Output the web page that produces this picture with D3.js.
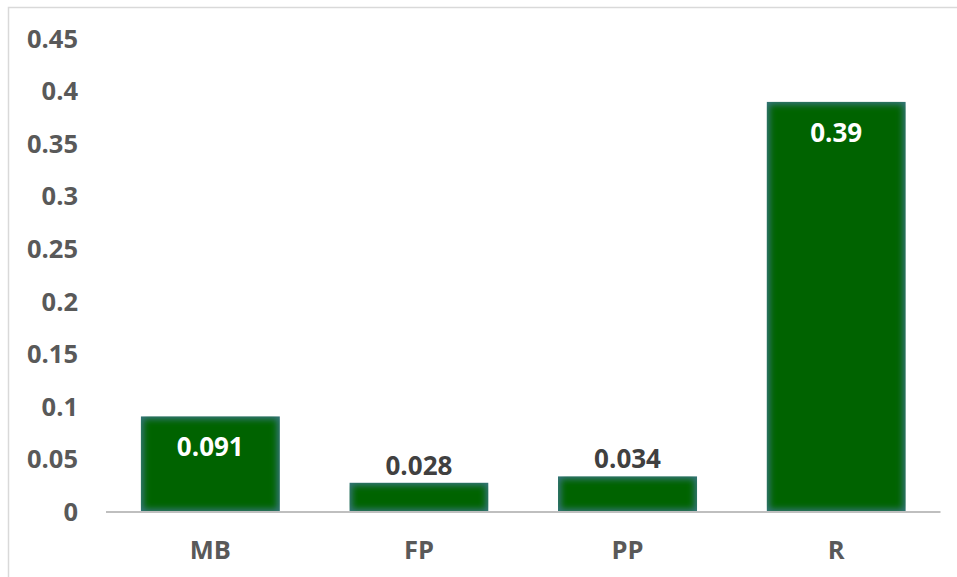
<!DOCTYPE html>
<html>
<head>
<meta charset="utf-8">
<script src="https://cdn.jsdelivr.net/npm/d3@7"></script>
<style>
  html, body { margin: 0; padding: 0; background: #fff; }
  svg { display: block; }
  text { font-family: "Open Sans", "Liberation Sans", sans-serif; font-weight: bold; }
</style>
</head>
<body>
<script>
// Data
const categories = ["MB", "FP", "PP", "R"];
const values = [0.091, 0.028, 0.034, 0.39];
const labelInside = [true, false, false, true];
const yTicks = [0, 0.05, 0.1, 0.15, 0.2, 0.25, 0.3, 0.35, 0.4, 0.45];
const yTickLabels = ["0", "0.05", "0.1", "0.15", "0.2", "0.25", "0.3", "0.35", "0.4", "0.45"];

const W = 957, H = 577;
const svg = d3.select("body").append("svg").attr("width", W).attr("height", H);

// chart frame (right/bottom edges run off the canvas)
svg.append("rect")
  .attr("x", 8.5).attr("y", 7.5)
  .attr("width", W + 10).attr("height", H + 10)
  .attr("fill", "none").attr("stroke", "#d9d9d9").attr("stroke-width", 1.5);

const x = d3.scaleBand().domain(categories).range([106, 940.5]).paddingInner(0.333).paddingOuter(0.1665);
const y = d3.scaleLinear().domain([0, 0.45]).range([512, 38.6]);

// soft inner glow for bars
const defs = svg.append("defs");
const f = defs.append("filter").attr("id", "soft").attr("x", "-10%").attr("y", "-10%").attr("width", "120%").attr("height", "120%");
f.append("feGaussianBlur").attr("stdDeviation", 3);

const bars = svg.append("g");
categories.forEach((c, i) => {
  const x0 = x(c), bw = x.bandwidth();
  const top = y(values[i]), h = y(0) - y(values[i]);
  const cp = defs.append("clipPath").attr("id", "clip" + i);
  cp.append("rect").attr("x", x0).attr("y", top).attr("width", bw).attr("height", h);
  const g = bars.append("g").attr("clip-path", `url(#clip${i})`);
  g.append("rect").attr("x", x0).attr("y", top).attr("width", bw).attr("height", h).attr("fill", "#35757a");
  const inset = Math.min(3, h / 5);
  g.append("rect")
    .attr("x", x0 + inset).attr("y", top + inset)
    .attr("width", bw - 2 * inset).attr("height", Math.max(0, h - 2 * inset))
    .attr("fill", "#006400").attr("filter", "url(#soft)");
});

// x axis baseline
svg.append("line")
  .attr("x1", x.range()[0]).attr("x2", x.range()[1])
  .attr("y1", y(0)).attr("y2", y(0))
  .attr("stroke", "#bfbfbf").attr("stroke-width", 2.2);

// y tick labels
svg.append("g").selectAll("text").data(yTicks).join("text")
  .attr("x", 78).attr("y", d => y(d))
  .attr("dy", "0.35em").attr("text-anchor", "end")
  .attr("font-size", 25.5).attr("fill", "#595959")
  .text((d, i) => yTickLabels[i]);

// x category labels
svg.append("g").selectAll("text").data(categories).join("text")
  .attr("x", d => x(d) + x.bandwidth() / 2).attr("y", 550)
  .attr("dy", "0.35em").attr("text-anchor", "middle")
  .attr("font-size", 25.5).attr("fill", "#595959")
  .text(d => d);

// value labels
svg.append("g").selectAll("text").data(categories).join("text")
  .attr("x", d => x(d) + x.bandwidth() / 2)
  .attr("y", (d, i) => labelInside[i] ? y(values[i]) + 31 : y(values[i]) - 17)
  .attr("dy", "0.35em").attr("text-anchor", "middle")
  .attr("font-size", 26)
  .attr("fill", (d, i) => labelInside[i] ? "#ffffff" : "#404040")
  .text((d, i) => String(values[i]));
</script>
</body>
</html>
